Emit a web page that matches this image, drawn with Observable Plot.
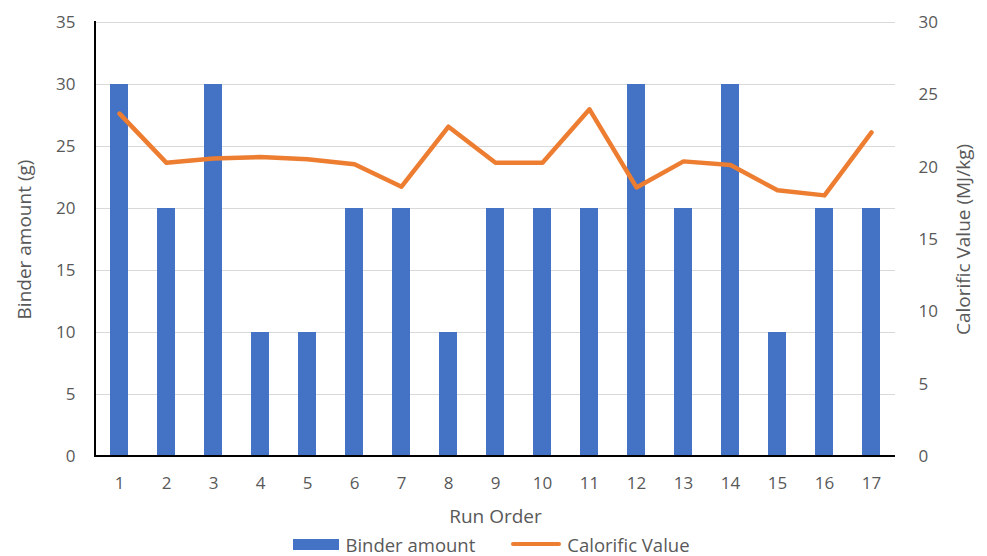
<!DOCTYPE html>
<html>
<head>
<meta charset="utf-8">
<script src="https://cdn.jsdelivr.net/npm/d3@7"></script>
<script src="https://cdn.jsdelivr.net/npm/@observablehq/plot@0.6"></script>
<style>
  html, body { margin: 0; padding: 0; background: #fff; overflow: hidden; }
  #chart { width: 987px; }
  .legend { height: 28px; display: flex; align-items: center; justify-content: center; gap: 36px;
    font-family: "Open Sans", sans-serif; font-size: 18.5px; color: #595959; margin-left: -4px; }
  .legend span { display: inline-flex; align-items: center; gap: 6px; }
  .sw-bar { display: inline-block; width: 46px; height: 11px; background: #4472C4; }
  .sw-line { display: inline-block; width: 50px; height: 4px; border-radius: 2px; background: #ED7D31; }
</style>
</head>
<body>
<div id="chart"></div>
<div class="legend"><span><i class="sw-bar"></i>Binder amount</span><span><i class="sw-line"></i>Calorific Value</span></div>
<script>
const runOrder = [1,2,3,4,5,6,7,8,9,10,11,12,13,14,15,16,17];
const binderAmount = [30,20,30,10,10,20,20,10,20,20,20,30,20,30,10,20,20];
const calorificValue = [23.7,20.3,20.6,20.7,20.55,20.2,18.65,22.8,20.3,20.3,24.0,18.6,20.4,20.15,18.4,18.05,22.4];
const leftTicks = [0,5,10,15,20,25,30,35];
const rightTicks = [0,5,10,15,20,25,30];

const leftMax = 35, rightMax = 30;
const k = leftMax / rightMax;
const data = runOrder.map((r, i) => ({run: r, binder: binderAmount[i], cv: calorificValue[i], cvScaled: calorificValue[i] * k}));

const textColor = "#595959";
const font = "Open Sans, sans-serif";

const axisLines = (index, scales, values, dims) => {
  const g = document.createElementNS("http://www.w3.org/2000/svg", "g");
  const x0 = dims.marginLeft, x1 = dims.width - dims.marginRight;
  const y0 = dims.marginTop, y1 = dims.height - dims.marginBottom;
  const l = document.createElementNS("http://www.w3.org/2000/svg", "path");
  l.setAttribute("d", `M${x0},${y0 - 1}V${y1}H${x1}`);
  l.setAttribute("fill", "none");
  l.setAttribute("stroke", "#000");
  l.setAttribute("stroke-width", "2");
  g.appendChild(l);
  return g;
};

const chart = Plot.plot({
  width: 987,
  height: 530,
  marginLeft: 95,
  marginRight: 92,
  marginTop: 22,
  marginBottom: 74,
  style: {fontFamily: font, fontSize: "17px", color: textColor, background: "#fff"},
  x: {type: "band", domain: runOrder, paddingInner: 0.62, paddingOuter: 0.31, label: null},
  y: {domain: [0, leftMax], label: null},
  marks: [
    Plot.gridY(leftTicks, {stroke: "#d9d9d9", strokeOpacity: 1, strokeWidth: 1}),
    Plot.barY(data, {x: "run", y: "binder", fill: "#4472C4"}),
    Plot.line(data, {x: "run", y: "cvScaled", stroke: "#ED7D31", strokeWidth: 4.5, strokeLinejoin: "round", strokeLinecap: "round"}),
    axisLines,
    Plot.axisX({tickSize: 0, tickPadding: 20, fontSize: 17, fill: textColor, label: null}),
    Plot.axisY(leftTicks, {anchor: "left", tickSize: 0, tickPadding: 20, fontSize: 17, fill: textColor, label: null}),
    Plot.axisY(rightTicks.map(v => v * k), {anchor: "right", tickSize: 0, tickPadding: 23, fontSize: 17, fill: textColor, label: null, tickFormat: d => String(Math.round(d / k))}),
    Plot.text(["Run Order"], {frameAnchor: "bottom", textAnchor: "middle", dy: 66, fontSize: 19, fill: textColor}),
    Plot.text(["Binder amount (g)"], {frameAnchor: "left", textAnchor: "middle", dx: -71, rotate: -90, fontSize: 19, fill: textColor}),
    Plot.text(["Calorific Value (MJ/kg)"], {frameAnchor: "right", textAnchor: "middle", dx: 68, rotate: -90, fontSize: 19, fill: textColor})
  ]
});
document.getElementById("chart").appendChild(chart);
</script>
</body>
</html>
